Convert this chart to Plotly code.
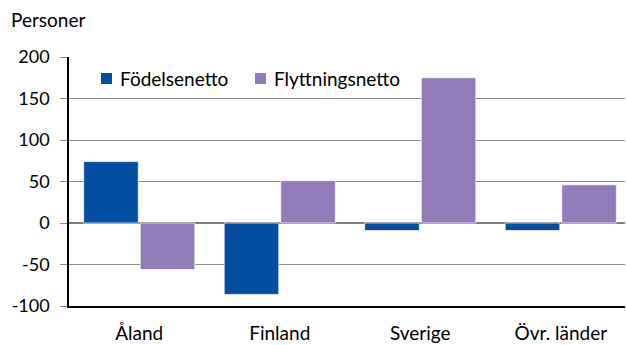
import plotly.graph_objects as go

categories = ["Åland", "Finland", "Sverige", "Övr. länder"]
fodelsenetto = [74, -86, -9, -9]
flyttningsnetto = [-56, 51, 175, 46]
y_ticks = [-100, -50, 0, 50, 100, 150, 200]

series_names = ["Födelsenetto", "Flyttningsnetto"]
series_colors = ["#034EA2", "#917BB8"]

FONT = "Lato, Open Sans, sans-serif"

W, H = 626, 345
L, R, T, B = 69, 1, 57, 39
PW, PH = W - L - R, H - T - B


def px(x):
    return (x - L) / PW


def py(y):
    return (H - B - y) / PH


fig = go.Figure()
for name, vals, color in zip(series_names, [fodelsenetto, flyttningsnetto], series_colors):
    fig.add_trace(go.Bar(
        x=categories, y=vals, name=name,
        marker=dict(color=color, line=dict(color="rgba(255,255,255,0.7)", width=1)),
        showlegend=False,
    ))

fig.update_layout(
    width=W, height=H,
    margin=dict(l=L, r=R, t=T, b=B),
    paper_bgcolor="white", plot_bgcolor="white",
    barmode="group", bargap=0.195, bargroupgap=0.035,
    font=dict(family=FONT, size=19, color="#000000"),
    xaxis=dict(
        range=[-0.5, 3.457],
        showline=True, linecolor="#000000", linewidth=1.5,
        ticks="", tickfont=dict(size=19), showgrid=False,
        ticklabelstandoff=9,
    ),
    yaxis=dict(
        range=[-100, 200], tickvals=y_ticks, ticktext=[str(v) for v in y_ticks],
        showgrid=True, gridcolor="#8C8C8C", gridwidth=1,
        zeroline=True, zerolinecolor="#7F7F7F", zerolinewidth=2,
        showline=True, linecolor="#000000", linewidth=1.5,
        ticks="outside", ticklen=7, tickcolor="#8C8C8C",
        tickfont=dict(size=18), ticklabelstandoff=7,
    ),
)

# Legend drawn as colour squares with labels inside the plot area
legend_items = [(101, 118), (255, 272)]
for (bx, tx), name, color in zip(legend_items, series_names, series_colors):
    fig.add_shape(
        type="rect", xref="paper", yref="paper",
        x0=px(bx), x1=px(bx + 11), y0=py(84), y1=py(73),
        fillcolor=color, line=dict(width=0),
    )
    fig.add_annotation(
        text=name, xref="paper", yref="paper",
        x=px(tx), y=py(78), xanchor="left", yanchor="middle",
        showarrow=False, font=dict(size=19),
    )

fig.add_annotation(
    text="Personer", xref="paper", yref="paper",
    x=px(9), y=py(19), xanchor="left", yanchor="middle",
    showarrow=False, font=dict(size=19),
)

fig.write_html("out.html")
